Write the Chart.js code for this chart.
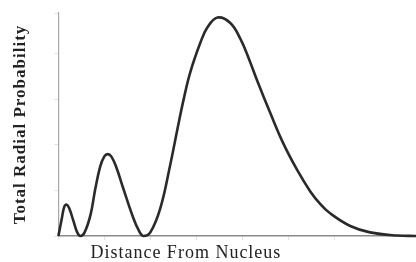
<!DOCTYPE html>
<html lang="en">
<head>
  <meta charset="UTF-8" />
  <title>Total Radial Probability</title>
  <script src="https://cdn.jsdelivr.net/npm/chart.js"></script>
  <style>
    body { margin: 0; background: #ffffff; }
    #chart { display: block; }
  </style>
</head>
<body>
<canvas id="chart" width="416" height="262"></canvas>

<script>
// distance from nucleus (arbitrary units) and total radial probability
const distance = [
  0, 0.07, 0.13, 0.18, 0.24, 0.33, 0.41, 0.48,
  0.57, 0.70, 0.80, 0.91, 1.00, 1.07, 1.15, 1.26, 1.41, 1.61, 1.74, 1.85,
  2.00, 2.22, 2.43, 2.59, 2.72, 2.87, 3.09, 3.24, 3.46, 3.74, 3.96, 4.15,
  4.33, 4.61, 4.89, 5.20, 5.48, 5.70, 5.91, 6.35, 6.78, 7.37, 7.78
];
const probability = [
  0, 0.36, 0.65, 0.69, 0.60, 0.32, 0.08, 0,
  0.08, 0.47, 1.02, 1.53, 1.75, 1.80, 1.75, 1.51, 1.05, 0.45, 0.14, 0,
  0.08, 0.62, 1.55, 2.35, 2.98, 3.60, 4.25, 4.58, 4.80, 4.68, 4.33, 3.88,
  3.40, 2.70, 2.04, 1.44, 0.98, 0.70, 0.50, 0.22, 0.08, 0.01, 0
];
const xTitle = 'Distance From Nucleus';
const yTitle = 'Total Radial Probability';

// x title sits left of centre in the original, so draw it by hand
const textPlugin = {
  id: 'textPlugin',
  beforeDraw(chart) {
    chart.ctx.letterSpacing = '1px';
  },
  afterDraw(chart) {
    const { ctx, chartArea } = chart;
    ctx.save();
    ctx.letterSpacing = '1px';
    ctx.font = '18px "Liberation Serif"';
    ctx.fillStyle = '#222';
    ctx.textBaseline = 'middle';
    ctx.textAlign = 'left';
    ctx.fillText(xTitle, chartArea.left + 32, chartArea.bottom + 17);
    ctx.restore();
  }
};

new Chart(document.getElementById('chart'), {
  type: 'line',
  data: {
    datasets: [{
      data: distance.map((d, i) => ({ x: d, y: probability[i] })),
      borderColor: '#2a2a2a',
      borderWidth: 2.6,
      pointRadius: 0,
      fill: false,
      tension: 0.4,
      clip: false
    }]
  },
  options: {
    responsive: false,
    animation: false,
    layout: { padding: { left: 6, top: 13, right: 0, bottom: 22 } },
    plugins: {
      legend: { display: false },
      tooltip: { enabled: false }
    },
    scales: {
      x: {
        type: 'linear',
        min: 0,
        max: 7.78,
        ticks: { display: false, stepSize: 1 },
        grid: { drawOnChartArea: false, drawTicks: true, tickLength: 4, color: '#e2e2e2' },
        border: { display: true, color: '#8a8a8a', width: 1.5 }
      },
      y: {
        min: 0,
        max: 4.9,
        ticks: { display: false, stepSize: 1 },
        grid: { drawOnChartArea: false, drawTicks: true, tickLength: 4, color: '#e2e2e2' },
        border: { display: true, color: '#a8a8a8', width: 1.2 },
        title: {
          display: true,
          text: yTitle,
          color: '#222',
          font: { family: '"Liberation Serif"', size: 17, weight: 'bold' },
          padding: { top: 4, bottom: 24 }
        }
      }
    }
  },
  plugins: [textPlugin]
});
</script>
</body>
</html>
